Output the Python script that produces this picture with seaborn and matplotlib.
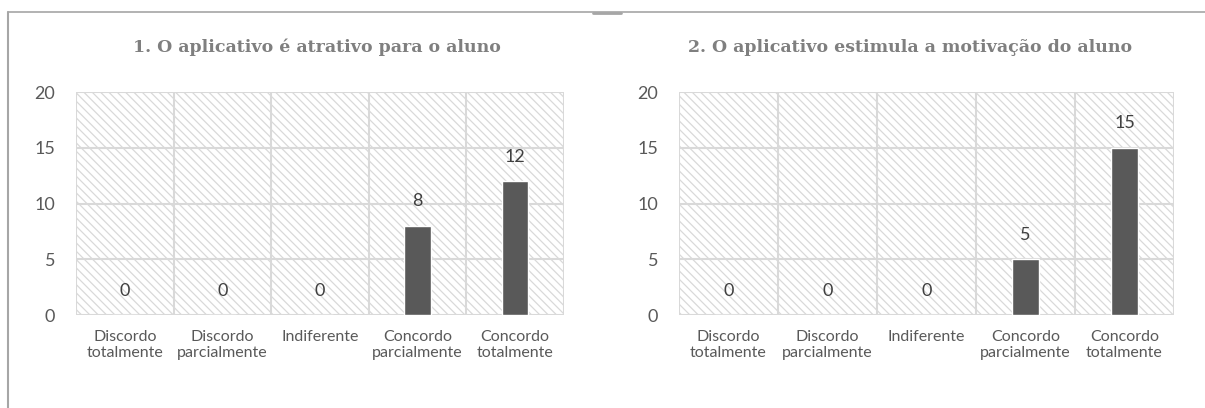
import pandas as pd
import matplotlib.pyplot as plt
import matplotlib.patches as mpatches
from matplotlib.lines import Line2D
import seaborn as sns

# ── Data ─────────────────────────────────────────────────────
categories = ["Discordo\ntotalmente", "Discordo\nparcialmente", "Indiferente",
              "Concordo\nparcialmente", "Concordo\ntotalmente"]
titles = ["1. O aplicativo é atrativo para o aluno",
          "2. O aplicativo estimula a motivação do aluno"]
q1_values = [0, 0, 0, 8, 12]
q2_values = [0, 0, 0, 5, 15]
y_ticks = [0, 5, 10, 15, 20]

# ── Style ────────────────────────────────────────────────────
sns.set_theme(style="white")
plt.rcParams["font.family"] = ["Lato", "DejaVu Sans"]
plt.rcParams["hatch.color"] = "#dcdcdc"
plt.rcParams["hatch.linewidth"] = 0.9

BAR = "#595959"
GRID = "#d9d9d9"
TICK = "#595959"

fig = plt.figure(figsize=(12.05, 4.08), dpi=100)
W, H = 1205, 408


def px_axes(x0, x1, y0, y1):
    return fig.add_axes([x0 / W, 1 - y1 / H, (x1 - x0) / W, (y1 - y0) / H])


panels = [
    (px_axes(76, 564, 92, 315), q1_values, titles[0], 317),
    (px_axes(679, 1174, 92, 315), q2_values, titles[1], 910),
]

for ax, vals, title, tx in panels:
    df = pd.DataFrame({"cat": categories, "val": vals})
    # hatched background
    ax.add_patch(mpatches.Rectangle((0, 0), 1, 1, transform=ax.transAxes,
                                    facecolor="white", edgecolor=GRID,
                                    hatch="\\\\\\\\", linewidth=0, zorder=0))
    sns.barplot(data=df, x="cat", y="val", color=BAR, width=0.27,
                saturation=1, ax=ax, zorder=3)
    ax.set_xlim(-0.5, 4.5)
    ax.set_ylim(0, 20)
    ax.set_yticks(y_ticks)
    for y in y_ticks:
        ax.axhline(y, color=GRID, lw=1.5, zorder=1)
    for x in [-0.5, 0.5, 1.5, 2.5, 3.5, 4.5]:
        ax.axvline(x, color=GRID, lw=1.5, zorder=1)
    for s in ax.spines.values():
        s.set_visible(False)
    ax.set_xlabel("")
    ax.set_ylabel("")
    ax.tick_params(axis="y", length=0, pad=15, labelsize=13, labelcolor=TICK)
    ax.tick_params(axis="x", length=0, pad=11, labelsize=11.5, labelcolor=TICK)
    for lbl in ax.get_xticklabels():
        lbl.set_linespacing(1.15)
    for i, v in enumerate(vals):
        ax.annotate(str(v), (i, v), xytext=(0, 17.5), textcoords="offset points",
                    ha="center", va="center", fontsize=13, color="#404040")
    fig.text(tx / W, 1 - 47 / H, title, ha="center", va="center",
             fontsize=12.5, fontweight="bold", color="#7f7f7f",
             family=["DejaVu Serif"])

# chart frame
frame = "#a6a6a6"
fig.add_artist(Line2D([8 / W, 8 / W], [0, 1 - 12 / H], color=frame, lw=1.5))
fig.add_artist(Line2D([8 / W, 1], [1 - 12 / H, 1 - 12 / H], color=frame, lw=1.2))
fig.add_artist(Line2D([593 / W, 621 / W], [1 - 13 / H, 1 - 13 / H], color=frame, lw=2))

fig.savefig("out.png", dpi=100)
